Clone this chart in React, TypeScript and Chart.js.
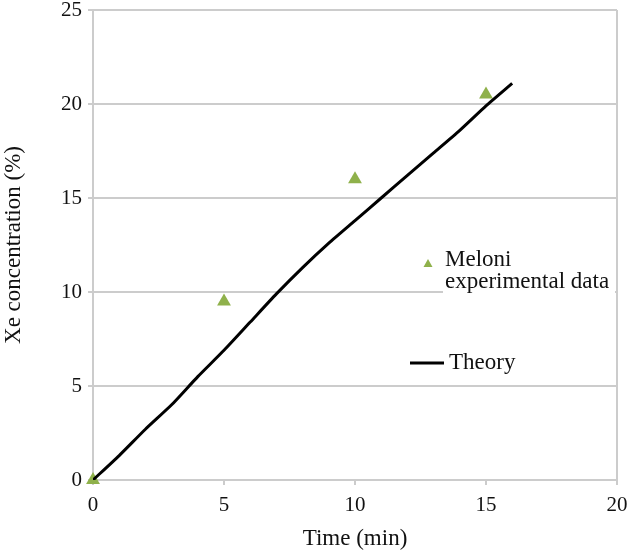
import React, { useEffect, useRef } from "react";
import { Chart, registerables } from "chart.js";

Chart.register(...registerables);

// Data
const expTime = [0, 5, 10, 15];
const expXe = [0, 9.5, 16, 20.5];
const theoryTime = [0, 1, 2, 3, 4, 5, 6, 7, 8, 9, 10, 11, 12, 13, 14, 15, 16];
const theoryXe = [0, 1.3, 2.7, 4.0, 5.5, 6.9, 8.4, 9.9, 11.3, 12.6, 13.8, 15.0, 16.2, 17.4, 18.6, 19.9, 21.1];
const xTicks = [0, 5, 10, 15, 20];
const yTicks = [0, 5, 10, 15, 20, 25];
const expLabel = ["Meloni", "experimental data"];
const theoryLabel = "Theory";
const xTitle = "Time (min)";
const yTitle = "Xe concentration (%)";

const FONT = "'Liberation Serif', 'Times New Roman', serif";
const GREEN = "#8fb14b";
const GRID = "#cccccc";

const legendPlugin = {
  id: "customLegend",
  afterDraw(chart: any) {
    const ctx = chart.ctx;
    ctx.save();
    ctx.fillStyle = "#ffffff";
    ctx.fillRect(443, 243, 172, 56);
    // triangle marker
    ctx.fillStyle = GREEN;
    ctx.beginPath();
    ctx.moveTo(428, 259);
    ctx.lineTo(432.5, 267);
    ctx.lineTo(423.5, 267);
    ctx.closePath();
    ctx.fill();
    ctx.fillStyle = "#111";
    ctx.font = `23px ${FONT}`;
    ctx.textAlign = "left";
    ctx.textBaseline = "alphabetic";
    ctx.fillText(expLabel[0], 445, 266);
    ctx.fillText(expLabel[1], 445, 288);
    // line marker
    ctx.strokeStyle = "#000";
    ctx.lineWidth = 3;
    ctx.beginPath();
    ctx.moveTo(410, 363);
    ctx.lineTo(444, 363);
    ctx.stroke();
    ctx.fillText(theoryLabel, 449, 369);
    ctx.restore();
  },
};

export default function App() {
  const ref = useRef<HTMLCanvasElement | null>(null);
  useEffect(() => {
    if (!ref.current) return;
    const chart = new Chart(ref.current, {
      type: "scatter",
      data: {
        datasets: [
          {
            type: "line",
            label: theoryLabel,
            data: theoryTime.map((t, i) => ({ x: t, y: theoryXe[i] })),
            borderColor: "#000",
            borderWidth: 3,
            pointRadius: 0,
            tension: 0.2,
            fill: false,
            order: 0,
          } as any,
          {
            type: "scatter",
            label: expLabel.join(" "),
            data: expTime.map((t, i) => ({ x: t, y: expXe[i] })),
            pointStyle: "triangle",
            pointRadius: 8,
            backgroundColor: GREEN,
            borderColor: GREEN,
            borderWidth: 0,
            clip: false,
            order: 1,
          } as any,
        ],
      },
      options: {
        animation: false,
        responsive: false,
        maintainAspectRatio: false,
        layout: { padding: { top: 10, right: 10, left: 0, bottom: 0 } },
        plugins: { legend: { display: false }, tooltip: { enabled: false } },
        scales: {
          x: {
            type: "linear",
            min: 0,
            max: 20,
            afterBuildTicks: (s: any) => {
              s.ticks = xTicks.map((v) => ({ value: v }));
            },
            afterFit: (s: any) => {
              s.height = 74;
              s.paddingLeft = 0;
              s.paddingRight = 0;
            },
            ticks: {
              color: "#111",
              font: { family: FONT, size: 21 },
              padding: 8,
              maxRotation: 0,
            },
            grid: {
              color: (c: any) =>
                c.tick && (c.tick.value === 0 || c.tick.value === 20) ? GRID : "rgba(0,0,0,0)",
              tickColor: GRID,
              lineWidth: 2,
              tickLength: 5,
            },
            border: { color: GRID, width: 2 },
            title: {
              display: true,
              text: xTitle,
              color: "#111",
              font: { family: FONT, size: 23 },
              padding: { top: 0, bottom: 1 },
            },
          },
          y: {
            type: "linear",
            min: 0,
            max: 25,
            afterBuildTicks: (s: any) => {
              s.ticks = yTicks.map((v) => ({ value: v }));
            },
            afterFit: (s: any) => {
              s.width = 93;
              s.paddingTop = 0;
              s.paddingBottom = 0;
            },
            ticks: {
              color: "#111",
              font: { family: FONT, size: 21 },
              padding: 6,
            },
            grid: {
              color: GRID,
              tickColor: GRID,
              lineWidth: 2,
              tickLength: 5,
            },
            border: { color: GRID, width: 2 },
            title: {
              display: true,
              text: yTitle,
              color: "#111",
              font: { family: FONT, size: 23 },
              padding: { top: 0, bottom: 0 },
            },
          },
        },
      },
      plugins: [legendPlugin],
    } as any);
    return () => chart.destroy();
  }, []);
  return (
    <div style={{ position: "fixed", left: 0, top: 0, width: 627, height: 554, background: "#fff" }}>
      <canvas ref={ref} width={627} height={554} />
    </div>
  );
}
